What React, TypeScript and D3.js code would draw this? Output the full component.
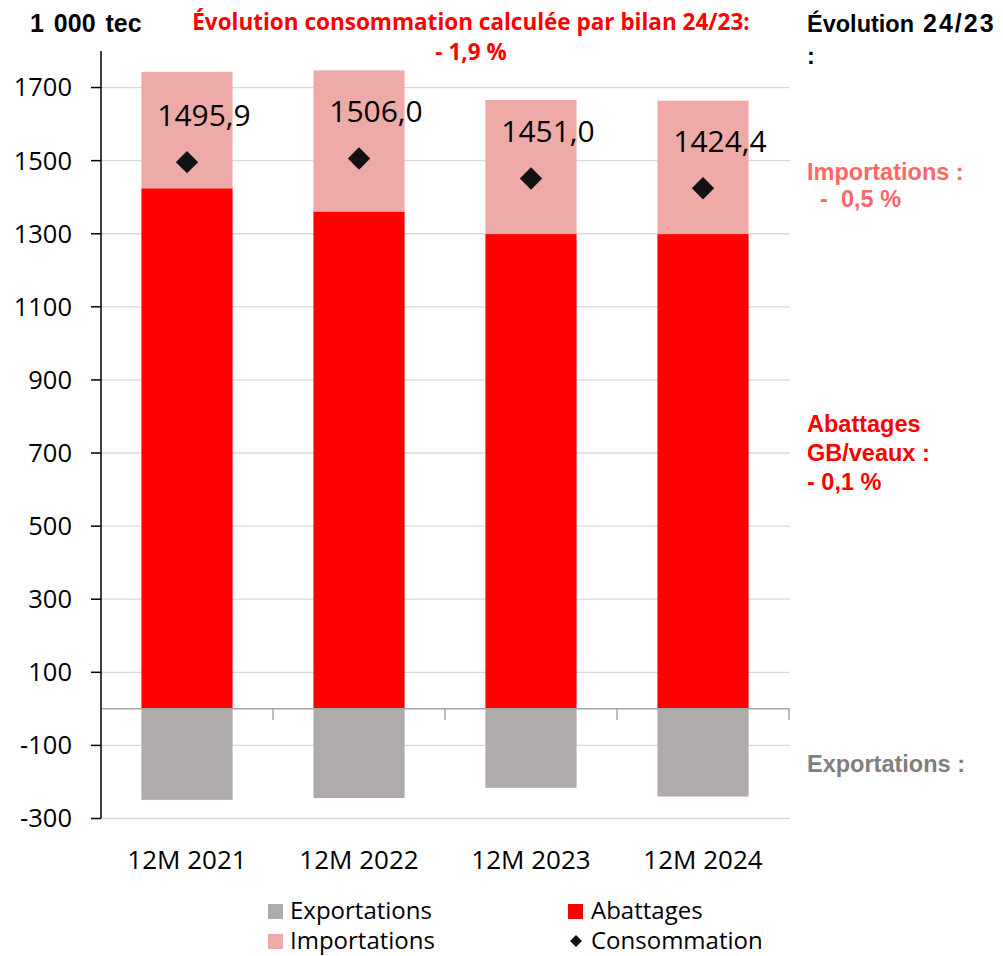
import React from "react";
import * as d3 from "d3";

const categories = ["12M 2021", "12M 2022", "12M 2023", "12M 2024"];
const abattages = [1424, 1360, 1299, 1299];
const importations = [319, 387, 367, 365];
const exportations = [-249, -244, -216, -240];
const consommation = [1495.9, 1506.0, 1451.0, 1424.4];
const yTicks = [-300, -100, 100, 300, 500, 700, 900, 1100, 1300, 1500, 1700];

const W = 1003;
const H = 956;
const UI = "'Open Sans', 'Noto Sans', sans-serif";
const BOLD = "'Liberation Sans', Arial, sans-serif";

export default function App() {
  const x = d3
    .scaleBand<string>()
    .domain(categories)
    .range([101, 789])
    .paddingInner(0.47)
    .paddingOuter(0.235);
  const y = d3.scaleLinear().domain([-300, 1800]).range([818.5, 51]);
  const bw = x.bandwidth();
  const step = x.step();
  const fmt = (v: number) => v.toFixed(1).replace(".", ",");
  const diamond = d3.symbol().type(d3.symbolDiamond2).size(320)() as string;
  const diamondSmall = d3.symbol().type(d3.symbolDiamond2).size(90)() as string;
  const bounds = categories.map((_, i) => 101 + step * (i + 1));

  return (
    <div style={{ position: "fixed", left: 0, top: 0, width: W, height: H, overflow: "hidden" }}>
      <svg width={W} height={H} style={{ display: "block", background: "#fff" }}>
        {/* gridlines */}
        {yTicks.map((t) => (
          <line key={t} x1={101} x2={790} y1={y(t)} y2={y(t)} stroke="#d9d9d9" strokeWidth={1.3} />
        ))}
        {/* bars */}
        {categories.map((c, i) => (
          <g key={c}>
            <rect x={x(c)} width={bw} y={y(abattages[i] + importations[i])} height={y(abattages[i]) - y(abattages[i] + importations[i])} fill="#eeaaa6" />
            <rect x={x(c)} width={bw} y={y(abattages[i])} height={y(0) - y(abattages[i])} fill="#ff0000" />
            <rect x={x(c)} width={bw} y={y(0)} height={y(exportations[i]) - y(0)} fill="#afabab" />
          </g>
        ))}
        {/* zero axis */}
        <line x1={101} x2={790} y1={y(0)} y2={y(0)} stroke="#a6a6a6" strokeWidth={1.5} />
        {bounds.map((bx) => (
          <line key={bx} x1={bx} x2={bx} y1={y(0)} y2={y(0) + 11} stroke="#a6a6a6" strokeWidth={1.5} />
        ))}
        {/* y axis */}
        <line x1={101} x2={101} y1={y(1800)} y2={y(-300)} stroke="#000" strokeWidth={1.5} />
        {yTicks.map((t) => (
          <g key={t}>
            <line x1={91} x2={101} y1={y(t)} y2={y(t)} stroke="#000" strokeWidth={1.5} />
            <text x={72} y={y(t)} dy="0.35em" textAnchor="end" fontFamily={UI} fontSize={25.5} fill="#000">
              {t}
            </text>
          </g>
        ))}
        {/* category labels */}
        {categories.map((c) => (
          <text key={c} x={(x(c) as number) + bw / 2} y={869} textAnchor="middle" fontFamily={UI} fontSize={26} fill="#000">
            {c}
          </text>
        ))}
        {/* consumption points + labels */}
        {categories.map((c, i) => (
          <g key={c}>
            <path d={diamond} transform={`translate(${(x(c) as number) + bw / 2},${y(consommation[i])})`} fill="#111" />
            <text x={(x(c) as number) + bw / 2 + 17} y={y(consommation[i]) - 47} dy="0.35em" textAnchor="middle" fontFamily={UI} fontSize={30} fill="#000">
              {fmt(consommation[i])}
            </text>
          </g>
        ))}
        {/* top texts */}
        <text x={30} y={32} fontFamily={BOLD} fontWeight="bold" fontSize={25} wordSpacing={3} fill="#000">1 000 tec</text>
        <text x={471} y={30} textAnchor="middle" fontFamily={UI} fontWeight="bold" fontSize={22.5} fill="#ff0000">
          Évolution consommation calculée par bilan 24/23:
        </text>
        <text x={471} y={59.5} textAnchor="middle" fontFamily={UI} fontWeight="bold" fontSize={22.5} fill="#ff0000">
          - 1,9 %
        </text>
        <text x={807} y={32} fontFamily={BOLD} fontWeight="bold" fontSize={23.5} fill="#000">
          <tspan>Évolution</tspan>
          <tspan x={923} fontSize={25} letterSpacing={2}>24/23</tspan>
        </text>
        <text x={807} y={64} fontFamily={BOLD} fontWeight="bold" fontSize={23.5} fill="#000">:</text>
        <text x={807} y={180} fontFamily={BOLD} fontWeight="bold" fontSize={23.5} fill="#ff6666">Importations :</text>
        <text x={807} y={207} fontFamily={BOLD} fontWeight="bold" fontSize={23.5} fill="#ff6666" style={{ whiteSpace: "pre" }}>{"  -  0,5 %"}</text>
        <text x={807} y={432} fontFamily={BOLD} fontWeight="bold" fontSize={23.5} fill="#ff0000">Abattages</text>
        <text x={807} y={461} fontFamily={BOLD} fontWeight="bold" fontSize={23.5} fill="#ff0000">GB/veaux :</text>
        <text x={807} y={490} fontFamily={BOLD} fontWeight="bold" fontSize={23.5} fill="#ff0000">- 0,1 %</text>
        <text x={807} y={772} fontFamily={BOLD} fontWeight="bold" fontSize={23.5} fill="#7f7f7f">Exportations :</text>
        {/* legend */}
        <rect x={268} y={904} width={15} height={15} fill="#afabab" />
        <text x={290} y={919} fontFamily={UI} fontSize={24} fill="#000">Exportations</text>
        <rect x={268} y={934} width={15} height={15} fill="#eeaaa6" />
        <text x={290} y={949} fontFamily={UI} fontSize={24} fill="#000">Importations</text>
        <rect x={568} y={904} width={15} height={15} fill="#ff0000" />
        <text x={591} y={919} fontFamily={UI} fontSize={24} fill="#000">Abattages</text>
        <path d={diamondSmall} transform={`translate(576,941)`} fill="#111" />
        <text x={591} y={949} fontFamily={UI} fontSize={24} fill="#000">Consommation</text>
      </svg>
    </div>
  );
}
